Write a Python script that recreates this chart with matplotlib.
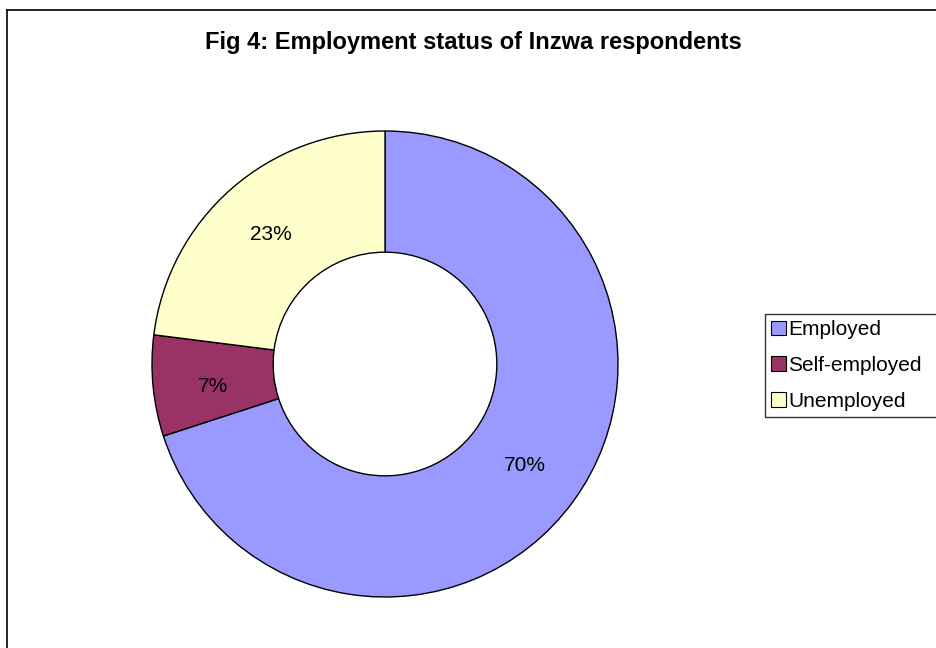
import matplotlib
matplotlib.use("Agg")
import matplotlib.pyplot as plt
from matplotlib.lines import Line2D
from matplotlib.patches import Patch

categories = ["Employed", "Self-employed", "Unemployed"]
shares = [70, 7, 23]
colors = ["#9999FF", "#993366", "#FFFFCC"]
title = "Fig 4: Employment status of Inzwa respondents"

plt.rcParams["font.family"] = ["Liberation Sans", "DejaVu Sans"]

W, H = 937, 648
fig = plt.figure(figsize=(W / 100, H / 100), dpi=100)

# donut centre ~ (385, 364) px, outer radius ~233 px
cx, cy, r = 385, 364, 233
ax = fig.add_axes([(cx - r) / W, (H - cy - r) / H, 2 * r / W, 2 * r / H])
wedges, _, autotexts = ax.pie(
    shares, colors=colors, startangle=90, counterclock=False,
    autopct="%1.0f%%", pctdistance=0.74, radius=1,
    wedgeprops=dict(width=0.52, edgecolor="black", linewidth=1.0),
    textprops=dict(fontsize=15, color="black"),
)
# small nudge so the 7% label sits where Excel put it
x, y = autotexts[1].get_position()
autotexts[1].set_position((x, y - 0.025))

ax.set_xlim(-1, 1)
ax.set_ylim(-1, 1)
ax.set_aspect("equal")
ax.axis("off")

fig.text(473 / W, 1 - 43 / H, title, ha="center", va="center",
         fontsize=17, fontweight="bold")

# legend box runs off the right edge in the original, so stretch it wide
handles = [Patch(facecolor=c, edgecolor="black", linewidth=0.8) for c in colors]
leg = fig.legend(handles, categories, loc="upper left",
                 bbox_to_anchor=(765 / W, 1 - 314 / H, 200 / W, 0), mode="expand",
                 fontsize=15, frameon=True, fancybox=False,
                 handlelength=0.7, handleheight=0.7, handletextpad=0.1,
                 labelspacing=0.8, borderpad=0.3, borderaxespad=0.0)
leg.get_frame().set_edgecolor("black")
leg.get_frame().set_linewidth(1.0)

# chart-area border (left and top edges visible)
fig.add_artist(Line2D([7.5 / W, 7.5 / W], [0, 1 - 9.5 / H], color="black", lw=1.2,
                      transform=fig.transFigure))
fig.add_artist(Line2D([7.5 / W, 1], [1 - 9.5 / H, 1 - 9.5 / H], color="black", lw=1.2,
                      transform=fig.transFigure))

fig.savefig("out.png", dpi=100)
